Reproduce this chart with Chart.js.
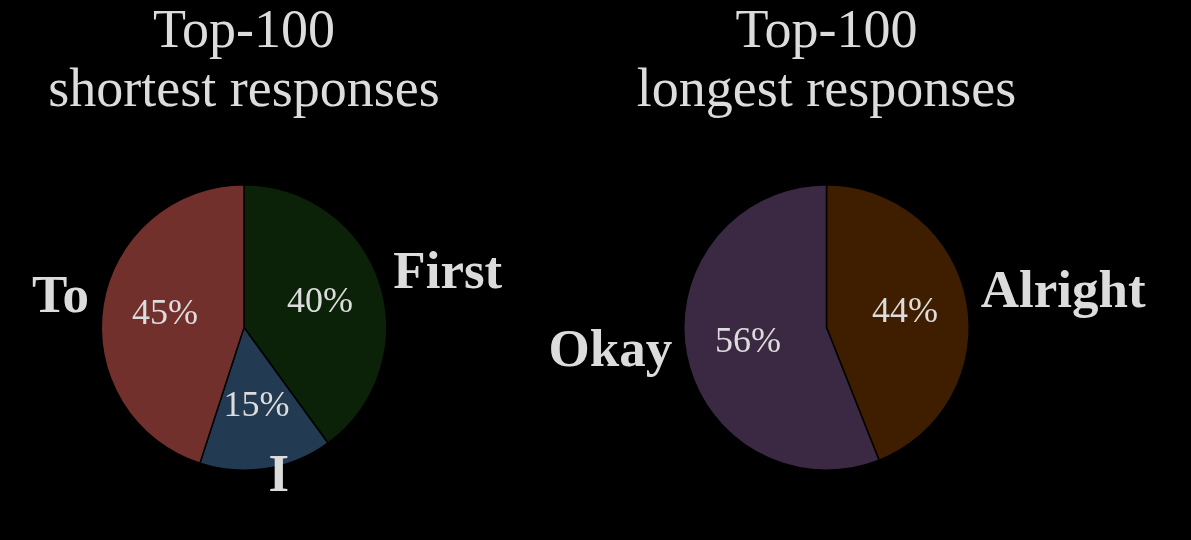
<!DOCTYPE html>
<html>
<head>
<meta charset="utf-8">
<title>Top-100 responses</title>
<script src="https://cdn.jsdelivr.net/npm/chart.js@4.4.1/dist/chart.umd.min.js"></script>
<style>
    html, body { margin: 0; padding: 0; background: #000; }
    body { width: 1191px; height: 540px; position: relative; overflow: hidden; }
    .pie-box { position: absolute; top: 0; height: 540px; }
    #boxShort { left: 0; width: 540px; }
    #boxLong { left: 500px; width: 691px; }
</style>
</head>
<body>
<div class="pie-box" id="boxShort"><canvas id="shortChart"></canvas></div>
<div class="pie-box" id="boxLong"><canvas id="longChart"></canvas></div>

<script>
// Data
const shortLabels = ['First', 'I', 'To'];
const shortValues = [40, 15, 45];
const shortColors = ['#0b2208', '#223a52', '#72302c'];

const longLabels = ['Alright', 'Okay'];
const longValues = [44, 56];
const longColors = ['#3f1e00', '#3b2943'];

const textColor = '#dcdcdc';
const serif = "'Liberation Serif', 'Times New Roman', serif";

// Draws the percent inside each slice and the category name outside it
const sliceLabels = {
    id: 'sliceLabels',
    afterDatasetsDraw(chart) {
        const ctx = chart.ctx;
        const meta = chart.getDatasetMeta(0);
        const values = chart.data.datasets[0].data;
        const total = values.reduce((a, b) => a + b, 0);
        ctx.save();
        ctx.fillStyle = textColor;
        ctx.textBaseline = 'middle';
        meta.data.forEach((arc, i) => {
            const p = arc.getProps(['x', 'y', 'startAngle', 'endAngle', 'outerRadius'], true);
            const mid = (p.startAngle + p.endAngle) / 2;
            const cos = Math.cos(mid);
            const sin = Math.sin(mid);

            // percent, about halfway out
            const pct = Math.round(values[i] / total * 100) + '%';
            ctx.font = '36px ' + serif;
            ctx.textAlign = 'center';
            ctx.fillText(pct, p.x + cos * p.outerRadius * 0.56, p.y + sin * p.outerRadius * 0.56);

            // category name, just outside the rim
            const r = p.outerRadius * 1.1;
            ctx.font = 'bold 53px ' + serif;
            ctx.textAlign = cos >= 0 ? 'left' : 'right';
            ctx.fillText(chart.data.labels[i], p.x + cos * r, p.y + sin * r - 5);
        });
        ctx.restore();
    }
};

function makePie(canvasId, labels, values, colors, title, padRight) {
    const ctx = document.getElementById(canvasId)?.getContext('2d');
    if (!ctx) {
        console.warn('Canvas not found: ' + canvasId);
        return null;
    }
    return new Chart(ctx, {
        type: 'pie',
        data: {
            labels: labels,
            datasets: [{
                data: values,
                backgroundColor: colors,
                borderColor: '#000',
                borderWidth: 1.5,
                hoverOffset: 0
            }]
        },
        options: {
            responsive: true,
            maintainAspectRatio: false,
            animation: false,
            events: [],
            layout: {
                padding: { left: 0, right: padRight, top: 0, bottom: 69 }
            },
            plugins: {
                legend: { display: false },
                tooltip: { enabled: false },
                title: {
                    display: true,
                    text: title,
                    color: textColor,
                    font: { family: serif, size: 54, weight: 'normal', lineHeight: 1.0926 },
                    padding: { top: 3, bottom: 63 }
                }
            }
        },
        plugins: [sliceLabels]
    });
}

makePie('shortChart', shortLabels, shortValues, shortColors, ['Top-100', 'shortest responses'], 52);
makePie('longChart', longLabels, longValues, longColors, ['Top-100', 'longest responses'], 38);
</script>
</body>
</html>
